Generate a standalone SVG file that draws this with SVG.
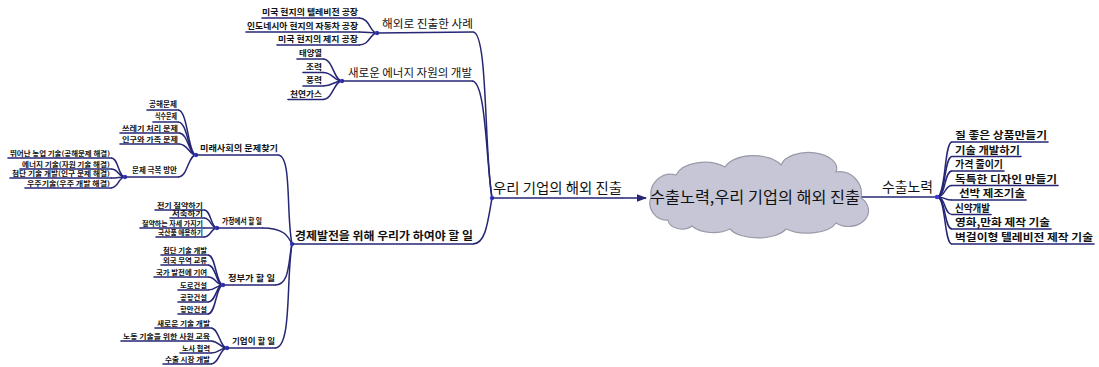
<svg xmlns="http://www.w3.org/2000/svg" width="1099" height="367" viewBox="0 0 1099 367">
<defs>
<style>
text{font-family:"Noto Sans CJK KR","Noto Sans",sans-serif;fill:#111}
.b{font-weight:bold}
.e{text-anchor:end}
.ul{stroke:#262675;stroke-width:1.6;fill:none;stroke-linecap:round}
.c{stroke:#262675;stroke-width:1.5;fill:none}
.hub{fill:#3a3ad0}
</style>
<marker id="arr" viewBox="0 0 8 8" refX="7" refY="4" markerWidth="7" markerHeight="7" orient="auto"><path d="M0 1 L8 4 L0 7 z" fill="#262675"/></marker>
</defs>
<rect width="1099" height="367" fill="#fff"/>

<g id="connectors">
<path class="c" d="M473 32 C488 32 484 150 492 198"/>
<path class="c" d="M472 81 C486 81 486 160 492 198"/>
<path class="c" d="M473 244 C486 244 488 220 492 198"/>
<path class="c" d="M359 18 C370 18 370 33 377 33"/>
<path class="c" d="M359 32 C368 32 370 33 377 33"/>
<path class="c" d="M359 45 C370 45 370 33 377 33"/>
<path class="c" d="M323 59 C333 59 334 81 342 81"/>
<path class="c" d="M323 72.5 C333 72.5 334 81 342 81"/>
<path class="c" d="M323 86 C333 86 334 81 342 81"/>
<path class="c" d="M323 99.5 C333 99.5 334 81 342 81"/>
<path class="c" d="M278 155 C292 155 286 215 292 244"/>
<path class="c" d="M262 228 C284 228 288 236 292 244"/>
<path class="c" d="M275 285 C290 285 288 262 292 244"/>
<path class="c" d="M275 348 C292 348 286 280 292 244"/>
<path class="c" d="M178 110 C188 110 188 155 196 155"/>
<path class="c" d="M178 122 C188 122 188 155 196 155"/>
<path class="c" d="M179 133 C188 133 189 155 196 155"/>
<path class="c" d="M179 144 C188 144 189 155 196 155"/>
<path class="c" d="M178 177 C188 177 188 155 196 155"/>
<path class="c" d="M111 158 C119 158 118 177 125 177"/>
<path class="c" d="M111 169 C119 169 118 177 125 177"/>
<path class="c" d="M111 178 C119 178 118 177 125 177"/>
<path class="c" d="M111 188 C119 188 118 177 125 177"/>
<path class="c" d="M204 210 C211 210 211 228 217 228"/>
<path class="c" d="M204 218 C211 218 211 228 217 228"/>
<path class="c" d="M204 228 L217 228"/>
<path class="c" d="M204 237 C211 237 211 228 217 228"/>
<path class="c" d="M208 255 C216 255 216 285 223 285"/>
<path class="c" d="M208 265 C216 265 216 285 223 285"/>
<path class="c" d="M208 277 C216 277 216 285 223 285"/>
<path class="c" d="M208 290 C216 290 216 285 223 285"/>
<path class="c" d="M208 302 C216 302 216 285 223 285"/>
<path class="c" d="M208 314 C216 314 216 285 223 285"/>
<path class="c" d="M211 328 C219 328 220 348 227 348"/>
<path class="c" d="M211 341 C219 341 220 348 227 348"/>
<path class="c" d="M211 353 C219 353 220 348 227 348"/>
<path class="c" d="M211 364 C219 364 220 348 227 348"/>
<path class="c" d="M937 197 C946 197 944 142 952 142"/>
<path class="c" d="M937 197 C946 197 944 156.5 952 156.5"/>
<path class="c" d="M937 197 C946 197 944 171 952 171"/>
<path class="c" d="M937 197 C946 197 944 185.5 952 185.5"/>
<path class="c" d="M937 197 C946 197 944 200 952 200"/>
<path class="c" d="M937 197 C946 197 944 214.5 952 214.5"/>
<path class="c" d="M937 197 C946 197 944 229 952 229"/>
<path class="c" d="M937 197 C946 197 944 244 952 244"/>
<path class="c" d="M622 198 L646 198" marker-end="url(#arr)"/>
<path class="c" d="M860 197 L937 197"/>
<circle class="hub" cx="492" cy="198" r="2.2"/>
<circle class="hub" cx="377" cy="33" r="2.2"/>
<circle class="hub" cx="342" cy="81" r="2.2"/>
<circle class="hub" cx="292" cy="244" r="2.2"/>
<circle class="hub" cx="196" cy="155" r="2.2"/>
<circle class="hub" cx="125" cy="177" r="2.2"/>
<circle class="hub" cx="217" cy="228" r="2.2"/>
<circle class="hub" cx="223" cy="285" r="2.2"/>
<circle class="hub" cx="227" cy="348" r="2.2"/>
<circle class="hub" cx="937" cy="197" r="2.2"/>
</g>

<g id="center">
<path d="M668 220 A17 17 0 0 1 651 197 A20 20 0 0 1 676 175 A30 18 0 0 1 725 167 A30 16 0 0 1 781 165 A28 16 0 0 1 836 172 A22 22 0 0 1 861 198 A20 16 0 0 1 836 223 A30 14 0 0 1 786 229 A30 14 0 0 1 730 229 A25 14 0 0 1 692 226 A14 10 0 0 1 668 220 Z" fill="#c6c6d6" stroke="#9a9aa8" stroke-width="1.2"/>
<text x="755" y="203" font-size="15.5" text-anchor="middle" textLength="210" lengthAdjust="spacingAndGlyphs">수출노력,우리 기업의 해외 진출</text>
</g>

<g id="n-branch-left">
<text x="493" y="193" font-size="13.5" textLength="129" lengthAdjust="spacingAndGlyphs">우리 기업의 해외 진출</text>
<line class="ul" x1="492" y1="198" x2="622" y2="198"/>
</g>

<g id="n-overseas">
<text x="382" y="28" font-size="11" textLength="91" lengthAdjust="spacingAndGlyphs">해외로 진출한 사례</text>
<line class="ul" x1="377" y1="33" x2="473" y2="32"/>
</g>
<g id="n-o1"><text class="b e" x="358" y="15" font-size="8.5" textLength="96" lengthAdjust="spacingAndGlyphs">미국 현지의 텔레비전 공장</text><line class="ul" x1="262" y1="18" x2="359" y2="18"/></g>
<g id="n-o2"><text class="b e" x="358" y="29" font-size="8.5" textLength="111" lengthAdjust="spacingAndGlyphs">인도네시아 현지의 자동차 공장</text><line class="ul" x1="246" y1="32" x2="359" y2="32"/></g>
<g id="n-o3"><text class="b e" x="358" y="42" font-size="8.5" textLength="80" lengthAdjust="spacingAndGlyphs">미국 현지의 제지 공장</text><line class="ul" x1="277" y1="45" x2="359" y2="45"/></g>

<g id="n-energy">
<text x="348" y="77" font-size="11.5" textLength="124" lengthAdjust="spacingAndGlyphs">새로운 에너지 자원의 개발</text>
<line class="ul" x1="342" y1="81" x2="472" y2="81"/>
</g>
<g id="n-e1"><text class="b e" x="322" y="56" font-size="8" textLength="23" lengthAdjust="spacingAndGlyphs">태양열</text><line class="ul" x1="297" y1="59" x2="323" y2="59"/></g>
<g id="n-e2"><text class="b e" x="322" y="69.5" font-size="8" textLength="16" lengthAdjust="spacingAndGlyphs">조력</text><line class="ul" x1="303" y1="72.5" x2="323" y2="72.5"/></g>
<g id="n-e3"><text class="b e" x="322" y="83" font-size="8" textLength="16" lengthAdjust="spacingAndGlyphs">풍력</text><line class="ul" x1="303" y1="86" x2="323" y2="86"/></g>
<g id="n-e4"><text class="b e" x="322" y="96.5" font-size="8" textLength="32" lengthAdjust="spacingAndGlyphs">천연가스</text><line class="ul" x1="288" y1="99.5" x2="323" y2="99.5"/></g>

<g id="n-economy">
<text class="b" x="295" y="240" font-size="11" textLength="178" lengthAdjust="spacingAndGlyphs">경제발전을 위해 우리가 하여야 할 일</text>
<line class="ul" x1="292" y1="244" x2="473" y2="244"/>
</g>

<g id="n-future">
<text class="b" x="200" y="151" font-size="8.5" textLength="78" lengthAdjust="spacingAndGlyphs">미래사회의 문제찾기</text>
<line class="ul" x1="196" y1="155" x2="278" y2="155"/>
</g>
<g id="n-f1"><text class="b e" x="177" y="107" font-size="7.5" textLength="28" lengthAdjust="spacingAndGlyphs">공해문제</text><line class="ul" x1="147" y1="110" x2="178" y2="110"/></g>
<g id="n-f2"><text class="b e" x="177" y="119" font-size="7.5" textLength="22" lengthAdjust="spacingAndGlyphs">식수문제</text><line class="ul" x1="153" y1="122" x2="178" y2="122"/></g>
<g id="n-f3"><text class="b e" x="178" y="130.5" font-size="7" textLength="56" lengthAdjust="spacingAndGlyphs">쓰레기 처리 문제</text><line class="ul" x1="120" y1="133" x2="179" y2="133"/></g>
<g id="n-f4"><text class="b e" x="178" y="141.5" font-size="7" textLength="56" lengthAdjust="spacingAndGlyphs">인구와 가족 문제</text><line class="ul" x1="120" y1="144" x2="179" y2="144"/></g>
<g id="n-f5"><text class="b e" x="177" y="173" font-size="7.5" textLength="45" lengthAdjust="spacingAndGlyphs">문제 극복 방안</text><line class="ul" x1="125" y1="177" x2="178" y2="177"/></g>
<g id="n-k1"><text class="b e" x="110" y="156" font-size="6.5" textLength="100" lengthAdjust="spacingAndGlyphs">뛰어난 농업 기술(공해문제 해결)</text><line class="ul" x1="8" y1="158" x2="111" y2="158"/></g>
<g id="n-k2"><text class="b e" x="110" y="167" font-size="6.5" textLength="88" lengthAdjust="spacingAndGlyphs">에너지 기술(자원 기술 해결)</text><line class="ul" x1="20" y1="169" x2="111" y2="169"/></g>
<g id="n-k3"><text class="b e" x="110" y="176" font-size="6.5" textLength="98" lengthAdjust="spacingAndGlyphs">첨단 기술 개발(인구 문제 해결)</text><line class="ul" x1="10" y1="178" x2="111" y2="178"/></g>
<g id="n-k4"><text class="b e" x="110" y="186" font-size="6.5" textLength="83" lengthAdjust="spacingAndGlyphs">우주기술(우주 개발 해결)</text><line class="ul" x1="25" y1="188" x2="111" y2="188"/></g>

<g id="n-home">
<text class="b" x="222" y="224" font-size="8.5" textLength="40" lengthAdjust="spacingAndGlyphs">가정에서 할 일</text>
<line class="ul" x1="217" y1="228" x2="262" y2="228"/>
</g>
<g id="n-h1"><text class="b e" x="203" y="207.8" font-size="6.3" textLength="46" lengthAdjust="spacingAndGlyphs">전기 절약하기</text><line class="ul" x1="155" y1="210" x2="204" y2="210"/></g>
<g id="n-h2"><text class="b e" x="203" y="216" font-size="6.3" textLength="31" lengthAdjust="spacingAndGlyphs">저축하기</text><line class="ul" x1="170" y1="218" x2="204" y2="218"/></g>
<g id="n-h3"><text class="b e" x="203" y="226" font-size="6.3" textLength="61" lengthAdjust="spacingAndGlyphs">절약하는 자세 가지기</text><line class="ul" x1="140" y1="228" x2="204" y2="228"/></g>
<g id="n-h4"><text class="b e" x="203" y="235" font-size="6.3" textLength="45" lengthAdjust="spacingAndGlyphs">국산품 애용하기</text><line class="ul" x1="156" y1="237" x2="204" y2="237"/></g>

<g id="n-gov">
<text class="b" x="228" y="281" font-size="8.5" textLength="47" lengthAdjust="spacingAndGlyphs">정부가 할 일</text>
<line class="ul" x1="223" y1="285" x2="275" y2="285"/>
</g>
<g id="n-g1"><text class="b e" x="207" y="252.5" font-size="7" textLength="44" lengthAdjust="spacingAndGlyphs">첨단 기술 개발</text><line class="ul" x1="161" y1="255" x2="208" y2="255"/></g>
<g id="n-g2"><text class="b e" x="207" y="262.5" font-size="7" textLength="44" lengthAdjust="spacingAndGlyphs">외국 무역 교류</text><line class="ul" x1="161" y1="265" x2="208" y2="265"/></g>
<g id="n-g3"><text class="b e" x="207" y="274.5" font-size="7" textLength="51" lengthAdjust="spacingAndGlyphs">국가 발전에 기여</text><line class="ul" x1="154" y1="277" x2="208" y2="277"/></g>
<g id="n-g4"><text class="b e" x="207" y="287.5" font-size="7" textLength="27" lengthAdjust="spacingAndGlyphs">도로건설</text><line class="ul" x1="178" y1="290" x2="208" y2="290"/></g>
<g id="n-g5"><text class="b e" x="207" y="299.5" font-size="7" textLength="27" lengthAdjust="spacingAndGlyphs">공항건설</text><line class="ul" x1="178" y1="302" x2="208" y2="302"/></g>
<g id="n-g6"><text class="b e" x="207" y="311.5" font-size="7" textLength="27" lengthAdjust="spacingAndGlyphs">항만건설</text><line class="ul" x1="178" y1="314" x2="208" y2="314"/></g>

<g id="n-corp">
<text class="b" x="232" y="344" font-size="8.5" textLength="43" lengthAdjust="spacingAndGlyphs">기업이 할 일</text>
<line class="ul" x1="227" y1="348" x2="275" y2="348"/>
</g>
<g id="n-c1"><text class="b e" x="210" y="325.5" font-size="7" textLength="53" lengthAdjust="spacingAndGlyphs">새로운 기술 개발</text><line class="ul" x1="155" y1="328" x2="211" y2="328"/></g>
<g id="n-c2"><text class="b e" x="210" y="338.5" font-size="7" textLength="87" lengthAdjust="spacingAndGlyphs">노동 기술을 위한 사원 교육</text><line class="ul" x1="121" y1="341" x2="211" y2="341"/></g>
<g id="n-c3"><text class="b e" x="210" y="350.5" font-size="7" textLength="28" lengthAdjust="spacingAndGlyphs">노사 협력</text><line class="ul" x1="180" y1="353" x2="211" y2="353"/></g>
<g id="n-c4"><text class="b e" x="210" y="361.5" font-size="7" textLength="45" lengthAdjust="spacingAndGlyphs">수출 시장 개발</text><line class="ul" x1="163" y1="364" x2="211" y2="364"/></g>

<g id="n-export">
<text x="882" y="192" font-size="13.5" textLength="51" lengthAdjust="spacingAndGlyphs">수출노력</text>
</g>
<g id="n-x1"><text class="b" x="955" y="139" font-size="10.5" textLength="92" lengthAdjust="spacingAndGlyphs">질 좋은 상품만들기</text><line class="ul" x1="952" y1="142" x2="1048" y2="142"/></g>
<g id="n-x2"><text class="b" x="955" y="153.5" font-size="10.5" textLength="65" lengthAdjust="spacingAndGlyphs">기술 개발하기</text><line class="ul" x1="952" y1="156.5" x2="1021" y2="156.5"/></g>
<g id="n-x3"><text class="b" x="955" y="168" font-size="10.5" textLength="48" lengthAdjust="spacingAndGlyphs">가격 줄이기</text><line class="ul" x1="952" y1="171" x2="1004" y2="171"/></g>
<g id="n-x4"><text class="b" x="955" y="182.5" font-size="10.5" textLength="102" lengthAdjust="spacingAndGlyphs">독특한 디자인 만들기</text><line class="ul" x1="952" y1="185.5" x2="1058" y2="185.5"/></g>
<g id="n-x5"><text class="b" x="959" y="197" font-size="10.5" textLength="66" lengthAdjust="spacingAndGlyphs">선박 제조기술</text><line class="ul" x1="952" y1="200" x2="1026" y2="200"/></g>
<g id="n-x6"><text class="b" x="955" y="211.5" font-size="10.5" textLength="35" lengthAdjust="spacingAndGlyphs">신약개발</text><line class="ul" x1="952" y1="214.5" x2="991" y2="214.5"/></g>
<g id="n-x7"><text class="b" x="955" y="226" font-size="10.5" textLength="95" lengthAdjust="spacingAndGlyphs">영화,만화 제작 기술</text><line class="ul" x1="952" y1="229" x2="1051" y2="229"/></g>
<g id="n-x8"><text class="b" x="955" y="241" font-size="10.5" textLength="138" lengthAdjust="spacingAndGlyphs">벽걸이형 텔레비전 제작 기술</text><line class="ul" x1="952" y1="244" x2="1094" y2="244"/></g>
</svg>
